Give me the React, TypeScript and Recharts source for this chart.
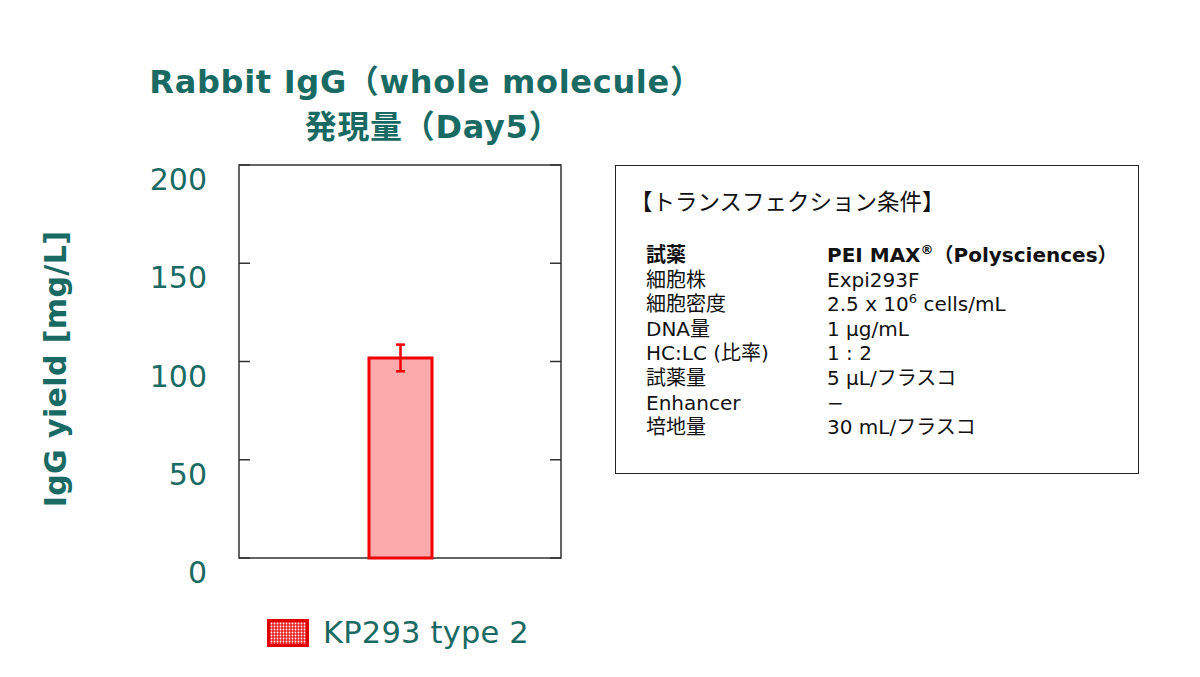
import React from 'react'
import {
  ComposedChart,
  Bar,
  Line,
  XAxis,
  YAxis,
  ErrorBar,
  ReferenceArea,
} from 'recharts'

const TEAL = '#1a6a64'

const categories = ['KP293 type 2']
const yieldValues = [101.8]
const yieldErrors = [6.8]
const yTicks = [0, 50, 100, 150, 200]

const conditionTitle = '【トランスフェクション条件】'
const conditionLabels = ['試薬', '細胞株', '細胞密度', 'DNA量', 'HC:LC (比率)', '試薬量', 'Enhancer', '培地量']
const supStyle: React.CSSProperties = { fontSize: '0.65em', lineHeight: 0, verticalAlign: 'super' }
const conditionValues: React.ReactNode[] = [
  <>PEI MAX<span style={supStyle}>®</span>（Polysciences）</>,
  'Expi293F',
  <>2.5 x 10<span style={supStyle}>6</span> cells/mL</>,
  '1 μg/mL',
  '1 : 2',
  '5 μL/フラスコ',
  '−',
  '30 mL/フラスコ',
]

const chartData = categories.map((name, i) => ({
  name,
  value: yieldValues[i],
  err: yieldErrors[i],
}))

const FONT = '"DejaVu Sans", Verdana, "Noto Sans CJK JP", sans-serif'

const YTick = (props: any) => {
  const { x, y, payload } = props
  return (
    <text x={x} y={y} dy={25} textAnchor="end" fill={TEAL} fontSize={30} fontFamily={FONT}>
      {payload.value}
    </text>
  )
}

// right axis: tick lines only
const NoLabel = () => <g />

const Swatch = () => (
  <svg width={42} height={28} style={{ marginRight: 14 }}>
    <defs>
      <pattern id="dots" width="3" height="3" patternUnits="userSpaceOnUse">
        <rect width="3" height="3" fill="#e8201f" />
        <circle cx="1.5" cy="1.5" r="0.9" fill="#ffffff" />
      </pattern>
    </defs>
    <rect x={1.5} y={1.5} width={39} height={25} fill="url(#dots)" stroke="#e00000" strokeWidth={3} />
  </svg>
)

export default function App() {
  return (
    <div style={{ position: 'absolute', left: 0, top: 0, width: 1200, height: 677, background: '#fff', fontFamily: FONT }}>
      <div style={{ position: 'absolute', left: 0, width: 852, top: 60, textAlign: 'center', color: TEAL, fontWeight: 'bold', fontSize: 32, lineHeight: '45px', letterSpacing: 0.7 }}>
        <div>Rabbit IgG（whole molecule）</div>
        <div style={{ paddingLeft: 14 }}>発現量（Day5）</div>
      </div>

      <div
        style={{
          position: 'absolute',
          left: 55,
          top: 369,
          transform: 'translate(-50%, -50%) rotate(-90deg)',
          whiteSpace: 'nowrap',
          color: TEAL,
          fontWeight: 'bold',
          fontSize: 30,
          letterSpacing: 0.4,
        }}
      >
        IgG yield [mg/L]
      </div>

      <div style={{ position: 'absolute', left: 0, top: 0 }}>
        <ComposedChart
          width={1200}
          height={677}
          data={chartData}
          margin={{ top: 165, right: 629, bottom: 119, left: 0 }}
        >
          <XAxis dataKey="name" hide />
          <YAxis
            yAxisId="l"
            width={239}
            domain={[0, 200]}
            ticks={yTicks}
            tick={<YTick />}
            tickLine={{ stroke: '#333', strokeWidth: 1.5 }}
            axisLine={false}
            tickSize={-11}
            tickMargin={43}
          />
          <YAxis
            yAxisId="r"
            orientation="right"
            width={10}
            domain={[0, 200]}
            ticks={yTicks}
            tick={<NoLabel />}
            tickLine={{ stroke: '#333', strokeWidth: 1.5 }}
            axisLine={false}
            tickSize={-11}
          />
          <ReferenceArea yAxisId="l" y1={0} y2={200} fill="none" stroke="#333" strokeWidth={1.5} ifOverflow="visible" />
          <Bar yAxisId="l" dataKey="value" name="KP293 type 2" barSize={63} fill="#fdaaad" stroke="#f00000" strokeWidth={3} isAnimationActive={false}>
            <ErrorBar dataKey="err" width={4.5} stroke="#f00000" strokeWidth={2.5} direction="y" />
          </Bar>
          {/* invisible series so the right axis gets its ticks */}
          <Line
            yAxisId="r"
            dataKey="value"
            stroke="none"
            fill="none"
            dot={{ r: 0, fill: 'none', stroke: 'none' }}
            activeDot={false}
            legendType="none"
            isAnimationActive={false}
          />
        </ComposedChart>
      </div>

      <div style={{ position: 'absolute', left: 267, top: 615, display: 'flex', alignItems: 'center' }}>
        {categories.map((c) => (
          <div key={c} style={{ display: 'flex', alignItems: 'center' }}>
            <Swatch />
            <span style={{ color: TEAL, fontSize: 30.5, letterSpacing: 0.2 }}>{c}</span>
          </div>
        ))}
      </div>

      <div
        style={{
          position: 'absolute',
          left: 615,
          top: 165,
          width: 522,
          height: 307,
          border: '1.5px solid #222',
          fontSize: 20,
          color: '#111',
        }}
      >
        <div style={{ position: 'absolute', left: 14, top: 18, fontSize: 22.5 }}>{conditionTitle}</div>
        <div style={{ position: 'absolute', left: 30, top: 77, lineHeight: '24.6px' }}>
          {conditionLabels.map((label, i) => (
            <div key={label} style={{ display: 'flex', fontWeight: i === 0 ? 'bold' : 'normal' }}>
              <div style={{ width: 181 }}>{label}</div>
              <div>{conditionValues[i]}</div>
            </div>
          ))}
        </div>
      </div>
    </div>
  )
}
